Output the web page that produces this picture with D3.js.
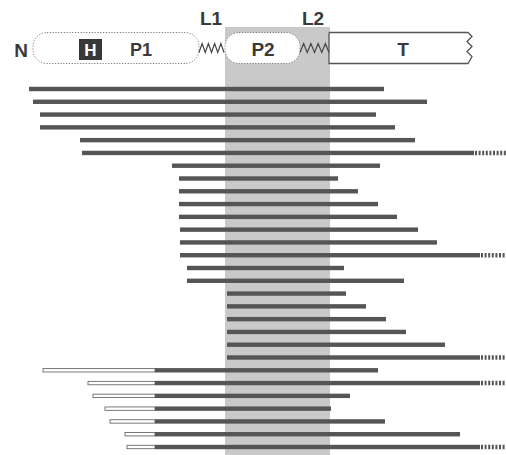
<!DOCTYPE html>
<html>
<head>
<meta charset="utf-8">
<script src="https://cdn.jsdelivr.net/npm/d3@7"></script>
<style>
  body { margin: 0; background: #fff; }
  svg { display: block; }
  .lbl { font-family: "Liberation Sans", Arial, sans-serif; font-weight: bold; fill: #3a3a3a; text-anchor: middle; }
</style>
</head>
<body>
<script>
// construct extents along the protein (position units)
const barStart = [29, 33, 40, 40, 80, 82, 172, 179, 179, 179, 179, 180, 180, 180, 187, 187,
                  227, 227, 227, 227, 227, 227, 155, 155, 155, 155, 155, 155, 155];
const barEnd = [384, 427, 376, 395, 415, 474, 380, 338, 358, 378, 397, 418, 437, 480, 344, 404,
                346, 366, 386, 406, 445, 480, 378, 480, 350, 331, 385, 460, 480];
// open (white) N-terminal segment start, null if none
const openStart = [null, null, null, null, null, null, null, null, null, null, null, null, null, null, null, null,
                   null, null, null, null, null, null, 43, 88, 93, 105, 110, 125, 127];
// constructs that continue past the drawn end
const continues = [0, 0, 0, 0, 0, 1, 0, 0, 0, 0, 0, 0, 0, 1, 0, 0, 0, 0, 0, 0, 0, 1, 0, 1, 0, 0, 0, 0, 1];
const extendTo = 506;

// domain map
const domains = [
  { name: 'P1', from: 33, to: 199, kind: 'pill', labelAt: 141 },
  { name: 'P2', from: 225, to: 300, kind: 'pill', labelAt: 263 },
  { name: 'T', from: 329, to: 471, kind: 'box', labelAt: 403 }
];
const linkers = [
  { name: 'L1', from: 199, to: 224, labelAt: 211 },
  { name: 'L2', from: 300, to: 329, labelAt: 313 }
];
const hisTag = { name: 'H', from: 79, to: 102 };
const band = [225, 330];

const W = 506, H = 455;
const svg = d3.select('body').append('svg').attr('width', W).attr('height', H);

const x = d3.scaleLinear().domain([0, 506]).range([0, 506]);
const y = d3.scalePoint().domain(d3.range(barStart.length)).range([89, 447]);
const headY = 48, headH = 31;

// shaded P2/L2 band
svg.append('rect')
  .attr('x', x(band[0])).attr('y', 27)
  .attr('width', x(band[1]) - x(band[0])).attr('height', H - 27)
  .attr('fill', '#c9c9c9');

// bars
const rows = d3.range(barStart.length);
const bh = 4.4;
svg.selectAll('.open').data(rows.filter(i => openStart[i] != null)).enter()
  .append('rect')
  .attr('x', i => x(openStart[i])).attr('y', i => y(i) - bh / 2 + 0.5)
  .attr('width', i => x(barStart[i]) - x(openStart[i])).attr('height', bh - 1)
  .attr('fill', '#fff').attr('stroke', '#6a6a6a').attr('stroke-width', 0.9);

svg.selectAll('.bar').data(rows).enter()
  .append('rect')
  .attr('x', i => x(barStart[i])).attr('y', i => y(i) - bh / 2)
  .attr('width', i => x(barEnd[i]) - x(barStart[i])).attr('height', bh)
  .attr('fill', '#555');

svg.selectAll('.cont').data(rows.filter(i => continues[i])).enter()
  .append('line')
  .attr('x1', i => x(barEnd[i]) + 1).attr('x2', x(extendTo))
  .attr('y1', i => y(i)).attr('y2', i => y(i))
  .attr('stroke', '#555').attr('stroke-width', bh)
  .attr('stroke-dasharray', '2,1.6');

// header: domains
const head = svg.append('g');
domains.filter(d => d.kind === 'pill').forEach(d => {
  head.append('rect')
    .attr('x', x(d.from)).attr('y', headY - headH / 2)
    .attr('width', x(d.to) - x(d.from)).attr('height', headH)
    .attr('rx', 14).attr('ry', 14)
    .attr('fill', '#fff').attr('stroke', '#777')
    .attr('stroke-width', 1).attr('stroke-dasharray', '1.2,1.6');
});

const tDom = domains.find(d => d.kind === 'box');
const yTop = headY - headH / 2, yBot = headY + headH / 2;
const jag = [[x(tDom.to) - 3, yTop], [x(tDom.to) + 1, yTop + 4], [x(tDom.to) - 4, yTop + 9],
             [x(tDom.to) + 1, yTop + 14], [x(tDom.to) - 4, yTop + 19], [x(tDom.to) + 1, yTop + 24],
             [x(tDom.to) - 3, yBot]];
const tPath = [[x(tDom.from), yTop], ...jag, [x(tDom.from), yBot], [x(tDom.from), yTop]];
head.append('path')
  .attr('d', d3.line()(tPath))
  .attr('fill', '#fff').attr('stroke', '#555').attr('stroke-width', 1.3);

// linkers as zigzags
linkers.forEach(l => {
  const n = 8;
  const pts = d3.range(n + 1).map(k => [
    x(l.from) + (x(l.to) - x(l.from)) * k / n,
    headY + (k % 2 === 0 ? 4.5 : -4.5)
  ]);
  head.append('path')
    .attr('d', d3.line()(pts))
    .attr('fill', 'none').attr('stroke', '#444').attr('stroke-width', 1.2);
  head.append('text').attr('class', 'lbl')
    .attr('x', x(l.labelAt)).attr('y', 25)
    .style('font-size', '19px').text(l.name);
});

// His tag
head.append('rect')
  .attr('x', x(hisTag.from)).attr('y', headY - 9)
  .attr('width', x(hisTag.to) - x(hisTag.from)).attr('height', 21)
  .attr('fill', '#383838');
head.append('text').attr('class', 'lbl')
  .attr('x', (x(hisTag.from) + x(hisTag.to)) / 2).attr('y', headY + 8)
  .style('font-size', '17px').style('fill', '#fff').text(hisTag.name);

// domain labels
domains.forEach(d => {
  head.append('text').attr('class', 'lbl')
    .attr('x', x(d.labelAt)).attr('y', 56)
    .style('font-size', d.name === 'P1' ? '18px' : '19px').text(d.name);
});
head.append('text').attr('class', 'lbl')
  .attr('x', 21).attr('y', 57)
  .style('font-size', '19px').text('N');
</script>
</body>
</html>
